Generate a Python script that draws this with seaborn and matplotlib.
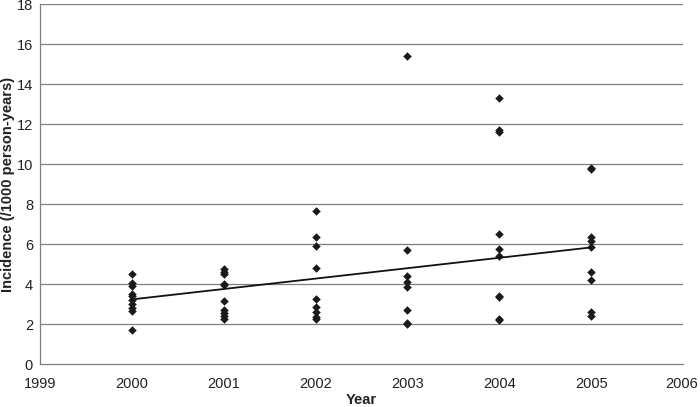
import matplotlib
matplotlib.use("Agg")
import matplotlib.pyplot as plt
import matplotlib.transforms as mtransforms
import seaborn as sns
import numpy as np
import pandas as pd

# Data
years_2000 = [2000] * 10
vals_2000 = [4.5, 4.05, 3.9, 3.5, 3.4, 3.2, 3.0, 2.8, 2.65, 1.7]
years_2001 = [2001] * 10
vals_2001 = [4.75, 4.6, 4.5, 4.0, 3.95, 3.15, 2.7, 2.55, 2.4, 2.25]
years_2002 = [2002] * 9
vals_2002 = [7.65, 6.33, 5.9, 4.82, 3.23, 2.87, 2.62, 2.37, 2.25]
years_2003 = [2003] * 8
vals_2003 = [15.4, 5.72, 4.38, 4.12, 3.85, 2.7, 2.07, 2.0]
years_2004 = [2004] * 10
vals_2004 = [13.28, 11.68, 11.6, 6.5, 5.73, 5.42, 3.4, 3.35, 2.25, 2.2]
years_2005 = [2005] * 9
vals_2005 = [9.8, 9.75, 6.33, 6.17, 5.87, 4.58, 4.2, 2.58, 2.42]

# Linear trend line as shown in the reference
trend_years = [2000, 2005]
trend_values = [3.23, 5.83]

x_ticks = [1999, 2000, 2001, 2002, 2003, 2004, 2005, 2006]
y_ticks = [0, 2, 4, 6, 8, 10, 12, 14, 16, 18]

df = pd.DataFrame({
    "Year": years_2000 + years_2001 + years_2002 + years_2003 + years_2004 + years_2005,
    "Incidence": vals_2000 + vals_2001 + vals_2002 + vals_2003 + vals_2004 + vals_2005,
})
trend = pd.DataFrame({"Year": trend_years, "Incidence": trend_values})

sns.set_style("white")
plt.rcParams["font.family"] = ["Liberation Sans", "DejaVu Sans"]

fig = plt.figure(figsize=(7.0, 4.07), dpi=100)
L, R, T, B = 40, 683, 4, 364
ax = fig.add_axes([L / 700, 1 - B / 407, (R - L) / 700, (B - T) / 407])

for yv in y_ticks[1:]:
    ax.axhline(yv, color="#7f7f7f", linewidth=0.9, zorder=0)

sns.scatterplot(data=df, x="Year", y="Incidence", marker="D", s=16,
                color="#1a1a1a", edgecolor="#1a1a1a", linewidth=0.3, ax=ax, zorder=3)
sns.lineplot(data=trend, x="Year", y="Incidence", color="#111111",
             linewidth=1.3, ax=ax, zorder=4)

ax.set_xlim(1999, 2006)
ax.set_ylim(0, 18)
ax.set_xticks(x_ticks)
ax.set_yticks(y_ticks)
ax.set_xticklabels([str(v) for v in x_ticks])
ax.set_yticklabels([str(v) for v in y_ticks])

for s in ["top", "right"]:
    ax.spines[s].set_visible(False)
for s in ["left", "bottom"]:
    ax.spines[s].set_color("#7f7f7f")
    ax.spines[s].set_linewidth(0.9)

ax.tick_params(axis="y", direction="out", length=3, width=0.9, color="#7f7f7f",
               labelsize=10.5, labelcolor="#222222", pad=2)
ax.tick_params(axis="x", direction="in", length=4, width=0.9, color="#7f7f7f",
               labelsize=10.5, labelcolor="#222222", pad=9)
# keep the last x label inside the figure, slightly right of its tick
last = ax.get_xticklabels()[-1]
last.set_horizontalalignment("right")
last.set_transform(last.get_transform() +
                   mtransforms.ScaledTranslation(0.15, 0, fig.dpi_scale_trans))

ax.set_xlabel("Year", fontsize=10.5, fontweight="bold", color="#222222")
ax.xaxis.set_label_coords(0.5, -(399.5 - B) / (B - T), transform=ax.transAxes)
ax.xaxis.label.set_verticalalignment("center")
ax.set_ylabel("Incidence (/1000 person-years)", fontsize=10.5, fontweight="bold",
              color="#222222")
ax.yaxis.set_label_coords(-(L - 8) / (R - L), 0.5, transform=ax.transAxes)
ax.yaxis.label.set_verticalalignment("center")

fig.savefig("out.png", dpi=100)
